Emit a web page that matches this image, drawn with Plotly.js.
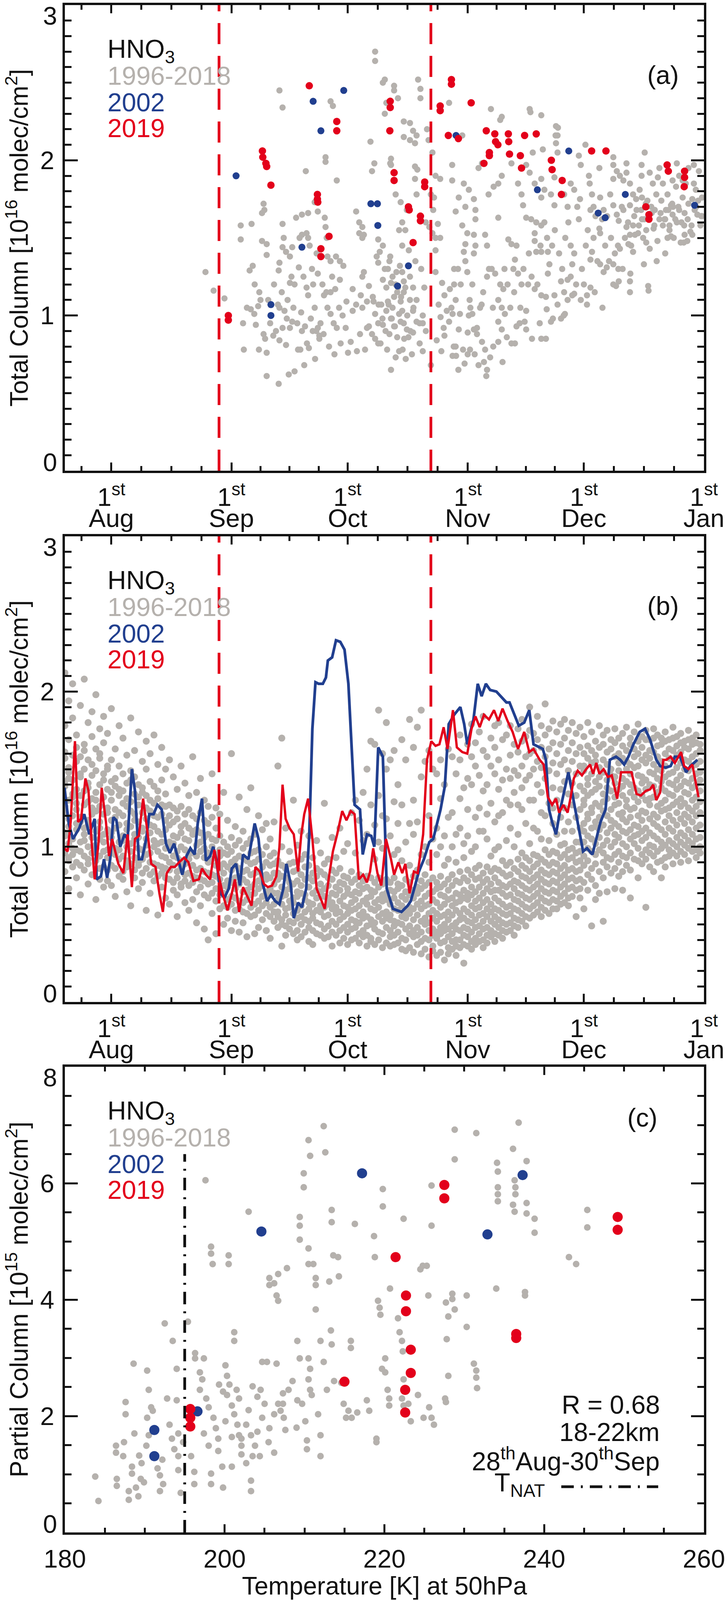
<!DOCTYPE html>
<html><head><meta charset="utf-8">
<script src="https://cdn.plot.ly/plotly-3.0.1.min.js"></script>
<style>html,body{margin:0;padding:0;background:#fff}#chart{width:1860px;height:4105px}</style>
</head><body><div id="chart"></div>
<script>
// ---------------- DATA ----------------
// x axis of panels (a),(b): day of year
const monthStartDays = [182, 213, 244, 274, 305, 335, 366];
const monthNames = ['Jul', 'Aug', 'Sep', 'Oct', 'Nov', 'Dec', 'Jan'];
const periodLineDays = [240.8, 295.5];
const tNAT = 195;
const colTicks = [0, 1, 2, 3];
const partTicks = [0, 2, 4, 6, 8];
const tempTicks = [180, 200, 220, 240, 260];

// panel (a) total column, 1996-2018 [day, value]
const aGrayPts = [
[237.3,1.28],[239.4,1.16],[242.2,1.11],[246.4,1.58],[246.4,1.49],[249.2,1.59],[248.7,1.29],[249.5,1.32],[252.3,1.72],[252.5,1.68],[251.9,1.66],[251.9,1.48],[253.1,1.46],[253.1,1.39],
[256.4,2.45],[257.2,2.34],[257.2,1.59],[257.5,1.50],[251.2,1.15],[251.5,1.10],[250.9,1.06],[249.0,1.04],[249.9,1.01],[250.3,0.94],[252.3,0.88],[252.7,0.85],[253.1,0.76],[247.2,0.78],
[251.1,0.78],[253.1,0.61],[256.2,0.56],[260.3,0.64],[254.8,0.87],[256.4,0.84],[258.1,0.81],[261.2,0.78],[264.0,0.79],[256.0,1.07],[256.4,1.05],[256.2,1.29],[256.4,1.34],[257.2,1.44],
[258.1,1.41],[259.1,1.38],[259.7,1.44],[257.7,1.03],[258.3,0.98],[259.1,0.92],[259.7,0.96],[257.2,0.92],[259.1,1.21],[260.3,1.20],[261.4,1.31],[261.6,1.50],[262.2,1.52],[263.4,1.53],
[263.8,1.50],[264.2,1.45],[260.7,1.63],[262.2,1.65],[263.8,1.66],[265.5,1.73],[263.2,1.93],[262.6,1.25],[263.4,1.18],[265.1,1.20],[263.8,1.13],[266.3,1.27],[265.5,1.05],[263.0,0.93],
[262.2,0.90],[265.9,0.90],[266.7,0.85],[266.3,1.67],[268.1,1.63],[268.3,1.57],[268.6,1.50],[268.3,2.02],[268.3,1.99],[269.6,2.38],[270.2,2.35],[271.2,1.87],[268.8,1.38],[269.6,1.35],
[267.9,1.13],[269.6,1.15],[270.8,1.17],[268.8,1.05],[269.6,1.01],[270.4,0.95],[271.2,0.92],[272.0,1.35],[272.9,1.32],[272.0,1.23],[266.3,0.92],[266.7,0.87],[274.1,0.76],[273.7,1.09],
[275.3,1.17],[277.4,1.13],[279.0,1.09],[277.8,1.25],[278.2,1.28],[276.2,1.67],[277.0,1.60],[277.8,1.57],[278.2,1.52],[277.0,1.53],[277.8,1.50],[279.9,2.12],[281.1,2.70],[281.1,2.64],
[280.9,1.98],[280.3,1.93],[281.9,1.49],[283.1,1.45],[282.3,1.41],[281.5,1.38],[281.9,1.34],[279.0,0.92],[280.3,0.88],[281.1,0.85],[281.9,0.82],[281.1,1.01],[281.9,0.95],[283.6,2.52],
[283.1,2.50],[284.0,2.37],[283.6,2.30],[286.0,2.48],[286.0,2.45],[287.0,2.40],[285.0,1.98],[283.6,1.30],[284.4,1.30],[285.6,1.25],[285.2,1.21],[284.0,1.18],[286.0,1.12],[284.4,1.09],
[284.0,1.03],[285.2,0.98],[286.0,0.93],[284.8,0.88],[288.1,1.28],[288.5,1.22],[288.5,1.15],[287.7,1.09],[288.1,1.03],[288.5,0.95],[288.9,1.18],[287.3,0.77],[286.4,0.73],[285.2,0.65],
[289.7,1.32],[290.1,1.25],[290.9,1.18],[290.1,1.10],[290.9,1.03],[291.8,0.96],[292.6,0.82],[293.4,0.77],[288.5,2.25],[290.1,2.24],[290.9,2.19],[291.8,2.16],[290.1,2.13],[291.4,2.11],
[288.5,2.15],[292.2,2.52],[292.8,2.46],[292.8,2.40],[285.2,2.01],[285.2,1.97],[291.4,1.96],[292.0,1.94],[291.4,1.88],[291.8,1.78],[286.4,1.78],[287.7,1.73],[289.3,1.68],[288.1,1.60],
[288.9,1.55],[287.3,1.55],[294.2,1.60],[295.1,1.57],[295.9,1.53],[296.7,1.50],[288.1,1.45],[293.4,0.95],[294.2,0.90],[295.5,0.68],[295.9,2.05],[296.3,1.76],[296.7,1.90],[297.9,1.88],
[285.6,1.05],[286.8,1.15],[287.3,1.01],[286.4,1.20],[287.7,0.96],[289.3,0.91],[289.7,0.86],[290.9,0.89],[286.8,0.86],[284.8,1.35],[283.1,1.23],[282.7,1.07],[283.1,0.94],[275.3,1.03],
[276.2,1.07],[277.8,1.05],[279.5,1.19],[280.7,1.09],[294.5,2.20],[294.9,2.13],[295.5,1.78],[296.1,1.68],[297.3,1.59],[297.9,1.50],[296.7,1.42],[296.7,1.28],[298.4,1.21],[299.0,1.13],
[300.8,1.05],[300.2,0.96],[299.0,0.87],[301.4,0.80],[302.0,0.74],[302.6,0.65],[303.8,0.78],[305.0,0.89],[305.6,0.78],[306.2,1.01],[307.4,0.92],[308.6,1.07],[309.2,0.70],[309.8,0.61],
[297.5,1.07],[298.0,0.99],[298.8,0.92],[299.6,1.03],[300.4,1.17],[297.0,0.84],[298.2,0.77],[303.0,1.01],[304.2,0.69],[306.8,0.75],
[300.2,2.37],[301.0,1.97],[301.0,1.87],[303.6,2.16],[304.0,1.85],[302.7,1.76],[305.3,1.81],[304.4,1.70],[301.9,1.67],[303.6,1.58],[304.9,1.53],[304.4,1.46],[304.0,1.41],[304.4,1.35],
[304.9,1.28],[301.5,1.30],[301.5,1.20],[301.9,1.10],[301.1,1.01],[302.7,0.91],[301.9,0.80],[301.1,0.74],[306.6,1.75],[307.0,1.68],[307.0,1.62],[306.6,1.52],[307.0,1.45],[306.6,1.40],
[305.7,1.05],[305.3,1.00],[306.6,0.91],[307.4,0.88],[308.7,0.83],[309.5,0.78],[310.8,0.73],[310.0,0.65],[311.0,2.33],[313.8,2.28],[307.8,1.95],[308.7,1.98],[310.4,1.78],[311.7,1.83],
[312.9,1.85],[313.8,1.90],[309.5,1.52],[310.0,1.45],[311.2,1.30],[310.0,1.25],[312.1,1.27],[312.9,1.63],[313.4,1.20],[314.2,1.17],[312.9,1.10],[313.8,1.05],[314.6,1.01],[312.9,0.96],
[313.8,0.91],[315.1,0.86],[312.9,0.83],[316.3,0.82],[315.5,1.49],[316.3,1.46],[317.6,1.45],[317.2,1.36],[316.8,1.30],[318.0,1.27],[316.3,1.98],[318.0,1.85],[318.9,1.78],[319.3,1.71],
[320.1,1.63],[321.4,1.62],[322.7,1.60],[324.0,1.58],[318.9,1.20],[320.6,1.20],[322.3,1.17],[324.0,1.13],[325.2,1.12],[320.1,1.03],[319.7,0.96],[320.1,0.91],[317.6,0.93],[317.2,0.82],
[324.0,0.85],[325.2,0.85],[321.0,2.33],[324.0,2.29],[320.1,1.97],[321.8,2.05],[321.0,1.92],[322.3,1.85],[322.3,1.53],[322.3,1.48],[322.7,1.41],[324.0,1.41],[325.7,1.41],[326.1,1.33],
[325.7,1.27],[324.4,2.07],[324.0,1.88],[324.8,1.81],[324.0,1.76],[327.8,2.22],[328.2,2.16],[327.8,2.11],[328.2,2.05],[327.4,1.89],[326.5,1.78],[327.4,1.71],[329.1,1.22],[330.8,1.23],
[329.9,1.15],[327.4,1.13],[328.2,1.07],[330.8,1.10],[332.0,1.13],[329.1,0.98],[326.5,0.96],[331.6,1.45],[332.5,1.40],[332.0,1.33],[331.6,1.25],[329.9,1.78],[330.8,1.70],[331.6,1.85],
[332.5,1.81],[333.7,2.03],[334.2,1.97],[333.3,1.70],[333.7,1.62],[335.0,1.20],[335.8,1.13],[336.7,1.18],[334.2,1.10],[335.8,1.07],[336.3,1.90],[335.4,2.10],[337.1,1.78],[337.5,1.70],
[336.7,1.68],[337.5,1.50],[337.1,1.41],[336.7,1.36],[339.2,1.76],[340.1,1.68],[339.7,1.62],[339.2,1.53],[339.2,1.33],[340.1,1.28],[340.9,1.31],[342.6,1.33],[343.9,1.30],[343.0,1.40],
[344.3,1.43],[342.6,1.20],[346.9,1.22],[351.6,1.19],[341.8,1.78],[342.6,1.88],[343.5,1.93],[344.3,1.90],[345.2,1.87],[342.6,1.71],[343.5,1.65],[345.2,1.68],[342.6,2.02],[342.6,1.97],
[346.0,1.92],[346.9,1.85],[347.7,1.78],[346.9,1.71],[348.6,1.68],[349.4,1.81],[349.9,1.90],[350.7,2.05],[349.9,1.97],[346.0,1.57],[347.7,1.58],[349.0,1.53],[346.9,1.52],[350.3,1.50],
[351.1,1.47],[352.0,1.43],[352.0,1.92],[352.8,1.85],[353.7,1.78],[353.3,1.68],[354.5,1.62],[355.4,1.58],[354.5,1.95],[354.1,1.89],[355.4,1.85],[356.6,1.78],[357.5,1.71],[357.9,1.65],
[356.2,1.68],[357.1,1.58],[357.9,1.87],[358.8,1.83],[356.6,1.50],[357.1,1.55],[359.6,1.68],[360.5,1.76],[360.9,1.58],[361.7,1.48],[363.0,1.75],[363.9,1.81],[363.4,1.85],[364.3,1.65],
[365.1,1.58],[364.7,1.93],[363.4,1.97],[359.6,1.90],[360.5,1.87],[361.3,1.85],[360.0,1.47],[351.1,1.55],[346.5,1.46],[347.7,1.41],[313.4,2.26],[321.2,2.31],[328.3,2.21],[327.7,2.16],
[343.3,1.19],[346.9,1.15],[351.7,1.16],[332.5,1.14],[330.1,1.01],[325.4,1.04],[348.0,1.64],[350.0,1.62],[351.0,1.72],[352.5,1.66],[355.0,1.74],[356.0,1.62],[358.0,1.70],[359.0,1.60],
[361.0,1.66],[362.0,1.72],[364.0,1.70],[365.5,1.64],[348.5,1.75],[353.0,1.56],[357.5,1.51],[362.5,1.54],[365.5,1.76],[350.0,1.76],[344.0,1.61],[341.0,1.64],[338.0,1.64],[339.0,1.56],
[279.5,0.93],[280.5,1.12],[282.0,1.07],[283.0,0.98],[283.8,0.90],[284.6,1.07],[285.4,0.98],[286.2,0.93],[287.0,1.18],[287.8,1.12],[288.6,0.85],[289.4,1.00],[290.2,0.90],[291.0,1.05],
[291.8,1.10],[292.6,0.95],[293.4,1.00],[289.0,0.72],[288.2,0.78],[290.6,0.75],[284.2,0.78],[282.5,0.82],[278.5,0.78],[277.2,0.88],[276.4,0.77],[274.8,0.83],[273.5,0.92],[272.7,1.00],
[271.8,1.05],[286.6,1.28],[285.0,1.38],[287.5,1.32],[289.8,1.42],[291.5,1.35],[293.0,1.30],[293.8,1.18],[255.0,1.20],[258.5,1.10],[260.0,1.05],[261.0,0.95],[262.0,1.02],[264.5,0.98],
[265.0,0.90],[267.0,0.95],[267.5,1.20],[268.5,1.15],[270.0,1.25],[271.0,1.38],[266.0,1.40],[264.8,1.30],[259.5,1.25],[255.5,0.90],[254.0,0.95],[257.0,1.15],[250.0,1.20],[248.0,1.05],
[247.0,0.95],[253.5,1.10],[261.8,0.78],[263.5,0.82],[267.8,0.88],[269.2,0.80],[270.6,0.75],[272.2,0.82],[258.8,0.62],[262.8,0.68],[265.6,0.72],[302.5,1.30],[303.2,1.20],[305.5,1.10],
[306.2,1.20],[308.2,1.05],[309.0,1.15],[310.5,1.30],[311.5,1.05],[314.5,1.30],[315.3,1.20],[316.0,1.05],[317.0,1.15],[318.6,1.05],[319.4,1.30],[320.8,1.40],[321.5,1.25],[323.0,1.20],
[323.8,1.45],[324.8,1.60],[325.5,1.50],[326.8,1.45],[327.5,1.55],[328.6,1.40],[329.4,1.30],[330.2,1.50],[331.0,1.60],[305.0,0.75],[307.8,0.68],[311.6,0.80],[314.0,0.70],[318.4,0.95],
[321.6,0.85],[323.6,0.95],[327.0,0.98],[329.8,1.00],[333.0,1.20],[334.5,1.30],[335.5,1.45],[334.0,1.75],[336.0,1.55],[338.5,1.35],[337.8,1.15],[339.8,1.05],[340.5,1.45],[341.5,1.35],
[342.0,1.50],[343.8,1.45],[344.8,1.70],[345.6,1.50],[346.4,1.60],[347.2,1.45],[348.2,1.52],[349.2,1.58],[349.8,1.68],[350.6,1.62],[351.4,1.74],[352.4,1.70],[353.2,1.58],[354.0,1.48],
[354.8,1.66],[355.8,1.62],[356.8,1.68],[357.8,1.72],[358.6,1.62],[359.4,1.70],[360.2,1.60],[361.0,1.52],[361.8,1.62],[362.8,1.58],[363.6,1.68],[364.5,1.74],[365.3,1.64],[358.2,1.50],
[360.8,1.47],[363.0,1.52],[356.0,1.40],[353.8,1.35],[350.5,1.33],[347.0,1.27],[345.0,1.30],[344.0,1.22],[359.0,1.98],[362.0,1.95],[346.0,1.98],[339.0,1.95],[336.5,1.85]
];
// panel (a) 2002 and 2019 [day, value]
const a2002Pts = [[245.2,1.90],[254.2,1.07],[254.2,1.00],[262.2,1.44],[265.1,2.38],[267.1,2.19],[273.0,2.45],[280.0,1.72],[281.7,1.72],[281.8,1.58],[286.9,1.19],[289.7,1.32],[302.0,2.16],[323.0,1.81],[331.1,2.06],[338.7,1.66],[340.5,1.63],[345.7,1.78],[363.6,1.71]];
const a2019Pts = [[243.2,1.00],[243.2,0.97],[252.0,2.06],[252.1,2.02],[252.9,1.98],[253.1,1.96],[254.2,1.84],[264.1,2.48],[266.2,1.78],[266.2,1.75],[266.3,1.73],[267.1,1.43],[267.1,1.38],[269.2,1.51],[271.2,2.25],[271.2,2.19],
[285.0,2.38],[285.0,2.34],[284.9,2.19],[286.0,1.92],[286.0,1.87],[289.7,1.70],[289.9,1.68],[290.9,1.47],[292.8,1.64],[292.8,1.61],[293.9,1.86],[293.9,1.83],[297.9,2.35],[297.9,2.32],[300.0,2.16],[300.8,2.52],[300.8,2.49],
[302.6,2.14],[305.9,2.37],[309.2,1.98],[309.8,2.19],[310.6,2.05],[310.6,2.03],[312.0,2.17],[312.2,2.12],[312.8,2.10],[315.5,2.17],[315.6,2.12],[315.8,2.04],[318.6,2.03],[318.9,1.95],[319.7,2.16],[322.7,2.17],
[326.6,2.00],[326.8,1.94],[329.4,1.87],[329.2,1.78],[337.0,2.06],[340.7,2.06],[351.0,1.70],[351.8,1.65],[351.8,1.62],[356.5,1.97],[356.8,1.93],[361.0,1.93],[361.0,1.89],[360.9,1.83]];

// panel (b) total column, 2002 daily series
const b2002Days = [200.9,202.0,203.1,204.7,206.0,207.3,208.7,209.2,210.3,211.1,211.9,212.7,213.5,214.3,215.3,216.4,217.2,218.3,219.1,220.1,220.9,222.0,222.8,223.9,224.9,226.0,227.1,228.1,229.2,230.2,231.3,232.4,233.4,234.5,235.3,236.4,237.4,238.5,239.3,240.1,241.2,242.2,243.3,244.1,245.2,246.2,247.0,248.4,249.2,250.0,251.0,252.1,253.2,254.2,255.3,256.4,257.4,258.2,259.3,260.1,261.2,262.2,263.3,264.1,264.9,265.7,266.5,267.6,268.4,268.9,270.0,271.0,272.1,273.2,274.2,275.0,275.8,277.2,277.9,279.0,280.1,280.9,281.9,283.1,284.1,285.7,287.9,289.5,290.3,292.4,293.7,295.1,296.1,298.0,299.1,300.1,301.5,303.1,304.1,304.9,306.5,307.6,308.6,309.7,310.8,312.4,314.0,315.0,315.8,317.2,318.2,319.6,320.9,322.0,323.6,324.4,325.2,326.0,326.8,327.8,328.9,330.0,331.0,332.4,333.4,334.8,335.8,337.2,338.0,339.3,340.6,341.7,343.3,344.4,345.4,346.5,347.8,349.4,350.8,352.1,353.7,354.7,356.1,357.4,358.5,359.8,361.4,362.5,364.3];
const b2002Vals = [1.38,1.15,1.05,1.12,1.21,1.08,1.18,0.79,0.81,0.92,0.80,0.92,1.19,1.17,1.00,1.08,1.05,1.50,1.36,0.92,0.92,1.05,1.21,1.21,1.27,1.24,1.02,0.96,1.02,0.92,0.82,0.94,0.99,0.95,1.15,1.31,0.91,0.94,1.00,0.92,0.70,0.67,0.73,0.86,0.89,0.75,0.95,0.92,1.03,1.15,1.05,0.76,0.65,0.69,0.65,0.63,0.73,0.89,0.76,0.54,0.64,0.61,0.73,1.08,1.76,2.06,2.05,2.05,2.09,2.20,2.22,2.33,2.32,2.27,2.05,1.69,1.27,1.24,0.95,1.08,1.07,1.00,1.64,1.58,0.73,0.60,0.58,0.62,0.65,0.84,0.92,1.03,1.05,1.24,1.39,1.79,1.85,1.90,1.79,1.66,1.82,2.05,1.97,2.05,2.01,2.00,1.96,1.93,1.93,1.84,1.78,1.80,1.88,1.66,1.64,1.63,1.56,1.24,1.16,1.08,1.24,1.37,1.48,1.29,1.15,0.97,0.99,0.95,1.03,1.16,1.24,1.56,1.58,1.56,1.53,1.58,1.66,1.74,1.76,1.69,1.56,1.52,1.51,1.52,1.58,1.58,1.48,1.52,1.56];
// panel (b) total column, 2019 daily series
const b2019Days = [200.9,201.7,202.5,203.6,204.4,205.2,206.3,207.1,207.9,208.7,209.7,210.5,211.6,212.4,213.2,214.0,214.8,216.1,217.2,218.3,219.1,220.1,221.2,222.3,223.3,224.4,225.4,226.3,227.3,228.4,229.4,230.5,231.8,232.9,234.2,235.6,236.4,237.4,238.5,239.6,240.6,241.7,243.0,244.1,244.9,246.0,247.0,248.1,249.2,250.2,251.3,252.4,253.4,254.5,255.6,256.4,257.2,258.0,259.0,260.1,261.2,262.0,262.8,263.8,264.9,266.0,267.0,268.1,269.2,270.2,271.3,272.6,273.7,274.8,275.8,276.9,278.0,279.0,279.8,280.6,281.7,282.7,283.9,285.2,286.0,287.1,288.1,288.9,290.0,291.1,292.1,293.5,294.5,295.6,296.7,297.7,298.8,299.8,301.2,302.2,303.6,304.9,306.0,307.0,308.1,309.2,310.5,311.8,312.9,314.0,315.3,316.6,318.0,319.6,320.9,322.0,323.6,324.6,325.7,326.8,327.8,328.6,329.7,330.8,331.6,332.4,333.4,334.5,335.6,336.6,337.4,338.2,339.0,340.1,341.2,342.2,343.6,344.6,346.0,347.3,348.6,349.7,351.0,352.1,352.9,353.7,354.7,355.5,356.3,357.4,358.5,360.1,360.9,362.0,363.0,364.6];
const b2019Vals = [0.99,0.97,1.16,1.68,1.16,1.18,1.44,1.36,1.03,0.79,1.03,1.38,1.16,0.94,1.05,0.97,0.89,0.83,1.08,0.74,1.05,1.07,1.31,1.10,0.89,0.87,0.70,0.58,0.83,0.87,0.87,0.90,0.93,0.90,0.78,0.79,0.86,0.82,0.79,0.98,0.83,0.70,0.59,0.70,0.79,0.58,0.74,0.68,0.62,0.87,0.84,0.76,0.74,0.75,0.81,1.00,1.40,1.18,1.12,1.08,0.84,1.07,1.21,1.31,1.05,0.73,0.67,0.60,0.81,0.97,1.08,1.23,1.17,1.23,1.21,0.79,0.82,0.77,0.84,0.99,0.83,0.75,1.05,0.92,0.82,0.90,0.83,0.89,0.70,0.84,0.83,1.08,1.56,1.68,1.65,1.66,1.77,1.63,1.88,1.64,1.61,1.60,1.76,1.84,1.77,1.85,1.82,1.88,1.81,1.89,1.81,1.74,1.63,1.74,1.61,1.63,1.56,1.53,1.32,1.27,1.31,1.22,1.27,1.22,1.32,1.44,1.49,1.46,1.50,1.53,1.47,1.54,1.47,1.50,1.45,1.46,1.31,1.48,1.48,1.48,1.34,1.33,1.36,1.37,1.40,1.30,1.35,1.56,1.56,1.58,1.54,1.61,1.52,1.50,1.53,1.32];

// panel (b) total column, 1996-2018: [day, values...]
const bGrayCols = [
[201,2.12,1.78,1.61,1.57,1.42,1.39,1.26,1.22,1.09,1.07,0.96,0.84],[202,1.94,1.69,1.51,1.48,1.44,1.3,1.18,1.13,1.02,0.93,0.91,0.73],
[203,2.05,1.83,1.59,1.43,1.34,1.32,1.2,1.05,0.99,0.95,0.87],[204,1.72,1.64,1.55,1.37,1.28,1.24,1.15,1.11,0.98,0.9,0.8],
[205,1.91,1.58,1.47,1.45,1.33,1.19,1.16,1.03,0.97,0.88,0.69],[206,2.08,1.66,1.62,1.5,1.36,1.27,1.12,1.08,1.04,0.94,0.85],
[207,1.8,1.56,1.41,1.38,1.29,1.17,1.14,1.0,0.92,0.89,0.76],[208,1.87,1.71,1.53,1.46,1.31,1.25,1.21,1.06,0.96,0.82],
[209,1.98,1.63,1.49,1.35,1.3,1.23,1.1,1.01,0.99,0.91,0.66],[210,1.76,1.6,1.57,1.4,1.26,1.16,1.12,1.05,0.94,0.86,0.79],
[211,1.84,1.67,1.47,1.43,1.32,1.21,1.08,1.03,0.97,0.87,0.74],[212,1.73,1.52,1.5,1.37,1.25,1.22,1.11,0.98,0.93,0.85,0.78],
[213,1.89,1.56,1.42,1.35,1.3,1.17,1.09,1.06,0.96,0.88,0.75],[214,1.63,1.44,1.39,1.24,1.19,1.12,0.99,0.95,0.86,0.68],
[215,1.78,1.52,1.37,1.33,1.22,1.14,1.03,0.98,0.92,0.81],[216,1.7,1.47,1.36,1.28,1.2,1.07,1.04,0.94,0.84,0.79],
[217,1.59,1.41,1.31,1.26,1.15,1.11,1.0,0.91,0.87,0.71],[218,1.83,1.49,1.43,1.29,1.23,1.13,1.02,0.97,0.89,0.62],
[219,1.62,1.45,1.34,1.21,1.17,1.08,1.05,0.93,0.85,0.8],[220,1.74,1.4,1.32,1.27,1.16,1.06,0.99,0.9,0.88,0.73],
[221,1.55,1.38,1.35,1.22,1.12,1.1,0.98,0.92,0.83,0.77],[222,1.68,1.5,1.33,1.25,1.18,1.05,1.01,0.95,0.86,0.59],
[223,1.6,1.42,1.3,1.23,1.14,1.09,0.96,0.9,0.82,0.7],[224,1.72,1.39,1.28,1.2,1.13,1.04,1.0,0.89,0.84,0.78],
[225,1.53,1.36,1.31,1.19,1.1,1.02,0.97,0.88,0.81,0.56],[226,1.64,1.43,1.27,1.21,1.08,1.03,0.94,0.87,0.83,0.74],
[227,1.5,1.34,1.26,1.17,1.11,0.99,0.93,0.86,0.8,0.67],[228,1.56,1.27,1.2,1.14,1.03,0.99,0.9,0.85,0.79,0.63],
[229,1.45,1.25,1.16,1.07,1.02,0.94,0.88,0.77,0.72],[230,1.37,1.23,1.18,1.06,0.97,0.93,0.84,0.8,0.69,0.55],
[231,1.52,1.26,1.13,1.09,1.0,0.91,0.87,0.76,0.74],[232,1.41,1.21,1.15,1.05,0.98,0.89,0.82,0.78,0.64],
[233,1.33,1.24,1.12,1.04,0.95,0.92,0.83,0.75,0.59],[234,1.58,1.2,1.1,1.08,0.96,0.88,0.81,0.77,0.66],
[235,1.35,1.18,1.11,1.01,0.94,0.85,0.8,0.71,0.51],[236,1.44,1.22,1.09,1.03,0.97,0.86,0.79,0.74,0.62],
[237,1.3,1.17,1.06,0.99,0.93,0.84,0.78,0.69,0.47],[238,1.26,1.15,1.08,0.96,0.9,0.83,0.76,0.67,0.4],
[239,1.47,1.19,1.05,1.0,0.92,0.82,0.77,0.7,0.57],[240,1.25,1.12,1.04,0.95,0.88,0.81,0.73,0.65,0.44],
[241,1.21,1.07,0.98,0.94,0.86,0.79,0.72,0.69,0.6],[242,1.35,1.03,0.96,0.89,0.83,0.75,0.7,0.62,0.5],
[243,1.17,1.0,0.95,0.87,0.78,0.74,0.66,0.61,0.54],[244,1.6,1.06,0.97,0.9,0.85,0.77,0.68,0.63,0.46],
[245,1.13,1.01,0.92,0.88,0.8,0.73,0.67,0.59,0.52],[246,1.32,1.04,0.94,0.86,0.81,0.76,0.65,0.6,0.45],
[247,1.1,0.99,0.93,0.84,0.79,0.71,0.64,0.58,0.51],[248,1.24,1.02,0.91,0.85,0.77,0.72,0.66,0.57,0.42],
[249,1.38,1.05,0.96,0.89,0.82,0.74,0.69,0.61,0.55],[250,1.08,0.97,0.9,0.83,0.76,0.7,0.63,0.56,0.44],
[251,1.2,0.98,0.92,0.84,0.78,0.73,0.65,0.59,0.48],[252,1.11,0.95,0.87,0.81,0.75,0.68,0.62,0.53],
[253,1.15,1.0,0.9,0.82,0.79,0.71,0.64,0.57,0.46],[254,1.05,0.94,0.88,0.8,0.73,0.69,0.61,0.55,0.41],
[255,1.16,0.96,0.89,0.83,0.76,0.7,0.63,0.58,0.52],[256,1.52,0.91,0.83,0.79,0.7,0.66,0.58,0.55,0.48],
[257,1.7,1.0,0.88,0.81,0.74,0.68,0.63,0.53,0.5,0.36],[258,1.12,0.86,0.8,0.72,0.69,0.6,0.56,0.49,0.43],
[259,0.97,0.89,0.77,0.73,0.65,0.61,0.52,0.47],[260,1.3,0.9,0.84,0.76,0.67,0.64,0.57,0.51,0.44],
[261,1.01,0.85,0.78,0.71,0.68,0.59,0.54,0.46,0.4],[262,1.1,0.92,0.82,0.75,0.7,0.62,0.55,0.5,0.42],
[263,0.95,0.87,0.79,0.69,0.66,0.58,0.53,0.45],[264,1.07,0.88,0.8,0.74,0.64,0.6,0.52,0.48,0.39],
[265,0.93,0.83,0.78,0.7,0.63,0.57,0.54,0.46,0.37],[266,1.04,0.86,0.81,0.72,0.67,0.59,0.51,0.44],
[267,0.96,0.84,0.76,0.71,0.62,0.58,0.5,0.43],[268,1.28,0.89,0.82,0.73,0.68,0.61,0.55,0.47,0.41],
[269,0.92,0.8,0.75,0.67,0.63,0.56,0.49,0.42],[270,1.06,0.85,0.79,0.7,0.64,0.6,0.52,0.45,0.36],
[271,0.93,0.83,0.74,0.69,0.61,0.57,0.5,0.43],[272,1.12,0.86,0.77,0.72,0.65,0.58,0.53,0.46,0.38],
[273,0.97,0.81,0.76,0.68,0.62,0.55,0.48,0.41],[274,1.02,0.8,0.73,0.7,0.61,0.57,0.5,0.45,0.37],
[275,1.22,0.84,0.77,0.69,0.64,0.59,0.53,0.47,0.4],[276,1.3,0.96,0.79,0.71,0.66,0.6,0.52,0.48,0.41],
[277,1.17,0.82,0.75,0.7,0.62,0.56,0.51,0.44,0.38],[278,1.35,1.04,0.78,0.73,0.65,0.58,0.54,0.46,0.42],
[279,1.5,1.08,0.81,0.74,0.67,0.63,0.55,0.49,0.43,0.36],[280,1.68,1.27,0.8,0.72,0.68,0.6,0.53,0.5,0.41,0.39],
[281,1.66,1.14,0.92,0.77,0.71,0.64,0.59,0.51,0.47,0.37],[282,1.88,1.33,1.03,0.8,0.74,0.66,0.61,0.55,0.45,0.4],
[283,1.6,1.2,0.99,0.76,0.69,0.65,0.57,0.52,0.44,0.35],[284,1.8,1.5,1.18,0.79,0.7,0.66,0.58,0.54,0.48,0.38],
[285,1.56,1.07,0.77,0.72,0.63,0.56,0.53,0.46,0.42,0.36],[286,1.62,1.29,0.95,0.8,0.71,0.67,0.6,0.52,0.49,0.43,0.37],
[287,1.4,1.15,0.98,0.76,0.73,0.64,0.59,0.51,0.45,0.38],[288,1.69,1.27,0.91,0.75,0.68,0.62,0.55,0.5,0.41,0.34],
[289,1.56,1.03,0.79,0.71,0.66,0.58,0.54,0.47,0.4,0.33],[290,1.82,1.15,0.88,0.77,0.69,0.61,0.57,0.49,0.44,0.35],
[291,1.64,1.3,1.08,0.81,0.72,0.67,0.6,0.53,0.46,0.42,0.32],[292,1.77,1.16,0.85,0.74,0.7,0.63,0.56,0.48,0.43,0.37],
[293,1.88,1.45,0.95,0.78,0.73,0.65,0.6,0.52,0.45,0.39,0.31],[294,1.55,1.0,0.82,0.75,0.68,0.62,0.54,0.5,0.41,0.34],
[295,1.62,1.2,0.9,0.77,0.7,0.63,0.57,0.51,0.46,0.4,0.29],[296,1.5,1.05,0.8,0.71,0.66,0.59,0.54,0.47,0.43,0.36,0.33],
[297,1.47,1.12,0.95,0.77,0.73,0.64,0.57,0.52,0.45,0.41,0.3],[298,1.56,1.31,1.0,0.81,0.74,0.69,0.61,0.55,0.48,0.44,0.38,0.32],
[299,1.4,1.07,0.88,0.76,0.68,0.63,0.56,0.5,0.46,0.39,0.27],[300,1.63,1.19,0.92,0.79,0.72,0.66,0.58,0.53,0.47,0.42,0.35,0.31],
[301,1.58,1.22,1.0,0.82,0.75,0.67,0.62,0.56,0.49,0.44,0.39,0.34],[302,1.47,1.08,0.9,0.78,0.7,0.64,0.59,0.51,0.47,0.4,0.36,0.3],
[303,1.72,1.56,1.31,1.12,0.84,0.77,0.69,0.65,0.57,0.53,0.46,0.4,0.35],[304,1.38,1.02,0.93,0.8,0.72,0.67,0.6,0.54,0.48,0.43,0.37,0.25],
[305,1.66,1.44,1.24,1.07,0.85,0.78,0.7,0.66,0.58,0.52,0.47,0.42,0.36],[306,1.79,1.58,1.4,0.97,0.82,0.74,0.69,0.62,0.56,0.51,0.45,0.39,0.34],
[307,1.67,1.52,1.19,1.0,0.86,0.79,0.71,0.65,0.6,0.53,0.48,0.41,0.37],[308,1.74,1.46,1.25,1.1,0.88,0.8,0.74,0.67,0.61,0.56,0.49,0.44,0.39],
[309,1.84,1.62,1.36,1.1,0.83,0.77,0.7,0.64,0.57,0.52,0.47,0.4,0.35],[310,1.58,1.4,1.21,1.05,0.87,0.79,0.73,0.66,0.6,0.55,0.48,0.43,0.38],
[311,1.7,1.52,1.28,0.94,0.84,0.76,0.71,0.63,0.58,0.52,0.46,0.42],[312,1.78,1.64,1.47,1.16,0.98,0.86,0.8,0.72,0.67,0.6,0.55,0.5,0.44,0.39],
[313,1.8,1.56,1.37,1.2,1.0,0.85,0.77,0.72,0.65,0.59,0.53,0.48,0.43],[314,1.69,1.43,1.22,0.91,0.83,0.75,0.7,0.63,0.57,0.51,0.46,0.41],
[315,1.72,1.5,1.3,1.04,0.88,0.81,0.74,0.68,0.61,0.56,0.5,0.45],[316,1.78,1.59,1.44,1.27,1.12,0.9,0.82,0.76,0.69,0.62,0.57,0.51,0.46],
[317,1.66,1.49,1.35,1.0,0.86,0.78,0.73,0.66,0.6,0.54,0.49,0.43],[318,1.76,1.61,1.46,1.27,1.08,0.92,0.84,0.77,0.7,0.65,0.59,0.53,0.48],
[319,1.82,1.68,1.52,1.38,1.24,0.96,0.88,0.81,0.75,0.69,0.63,0.57,0.52],[320,1.71,1.58,1.43,1.15,0.93,0.86,0.8,0.73,0.67,0.61,0.55,0.49],
[321,1.9,1.75,1.6,1.46,1.3,1.02,0.91,0.84,0.78,0.72,0.66,0.6,0.54],[322,1.73,1.62,1.5,1.3,1.12,0.95,0.87,0.8,0.74,0.68,0.62,0.56],
[323,1.84,1.69,1.55,1.4,1.1,0.94,0.89,0.82,0.76,0.7,0.64,0.58],[324,1.78,1.64,1.51,1.35,1.22,1.05,0.92,0.85,0.79,0.73,0.67,0.61,0.55],
[325,1.92,1.72,1.58,1.44,1.2,0.98,0.9,0.83,0.77,0.71,0.65,0.59],[326,1.76,1.63,1.49,1.28,1.04,0.95,0.88,0.82,0.76,0.7,0.64,0.57],
[327,1.81,1.67,1.54,1.38,1.25,1.15,0.97,0.9,0.84,0.78,0.72,0.66,0.6],[328,1.74,1.6,1.47,1.3,1.08,0.96,0.89,0.83,0.77,0.71,0.65,0.6],
[329,1.79,1.66,1.53,1.37,1.19,1.01,0.93,0.86,0.8,0.74,0.68,0.63],[330,1.82,1.7,1.56,1.42,1.25,1.1,1.02,0.95,0.88,0.82,0.76,0.7,0.64],
[331,1.75,1.62,1.49,1.34,1.16,0.98,0.92,0.85,0.79,0.73,0.67,0.62],[332,1.8,1.67,1.55,1.41,1.27,1.1,0.99,0.93,0.86,0.8,0.74,0.68],
[333,1.73,1.6,1.47,1.33,1.19,1.03,0.96,0.9,0.84,0.78,0.72,0.55],[334,1.77,1.64,1.52,1.39,1.24,1.12,1.03,0.97,0.91,0.85,0.79,0.73,0.67],
[335,1.71,1.6,1.52,1.49,1.36,1.3,1.27,1.15,1.1,1.03,0.94,0.88,0.77,0.6],[336,1.8,1.65,1.57,1.44,1.4,1.33,1.21,1.18,1.07,0.99,0.91,0.82,0.72],
[337,1.74,1.62,1.54,1.47,1.35,1.25,1.22,1.12,1.05,0.97,0.86,0.79,0.49],[338,1.68,1.59,1.55,1.42,1.37,1.28,1.16,1.13,1.02,0.95,0.89,0.75,0.66],
[339,1.78,1.64,1.51,1.45,1.39,1.26,1.19,1.11,1.06,0.98,0.84,0.7],[340,1.72,1.66,1.56,1.48,1.34,1.29,1.23,1.14,1.01,0.96,0.9,0.8,0.52],
[341,1.75,1.61,1.53,1.43,1.38,1.31,1.2,1.09,1.04,0.93,0.87,0.71],[342,1.69,1.63,1.5,1.46,1.36,1.24,1.17,1.12,1.0,0.92,0.83],
[343,1.76,1.67,1.58,1.45,1.41,1.32,1.27,1.15,1.08,1.03,0.95,0.86,0.73],[344,1.7,1.6,1.54,1.49,1.37,1.28,1.21,1.13,1.06,0.97,0.9,0.81],
[345,1.73,1.65,1.57,1.44,1.39,1.33,1.22,1.18,1.1,1.02,0.94,0.84,0.72],[346,1.77,1.62,1.55,1.5,1.42,1.3,1.26,1.16,1.09,1.0,0.93,0.88],
[347,1.7,1.66,1.53,1.47,1.4,1.35,1.24,1.19,1.11,1.05,0.96,0.85,0.67],[348,1.74,1.63,1.58,1.51,1.38,1.32,1.25,1.14,1.07,1.02,0.92],
[349,1.79,1.68,1.6,1.52,1.46,1.36,1.29,1.2,1.13,1.08,0.99,0.91,0.8],[350,1.71,1.64,1.56,1.45,1.41,1.33,1.23,1.17,1.1,1.04,0.95,0.89],
[351,1.75,1.69,1.59,1.54,1.43,1.37,1.3,1.22,1.12,1.06,0.98,0.92,0.61],[352,1.69,1.62,1.57,1.48,1.4,1.31,1.27,1.18,1.09,1.01,0.96,0.87],
[353,1.76,1.7,1.61,1.53,1.47,1.39,1.32,1.21,1.15,1.07,1.0,0.94,0.84],[354,1.72,1.65,1.58,1.5,1.44,1.35,1.26,1.19,1.13,1.05,0.97,0.9],
[355,1.7,1.66,1.55,1.49,1.42,1.38,1.28,1.23,1.11,1.03,0.99,0.91,0.8],[356,1.74,1.68,1.6,1.52,1.45,1.36,1.3,1.24,1.16,1.08,1.01,0.93,0.87],
[357,1.69,1.63,1.57,1.47,1.41,1.34,1.25,1.2,1.12,1.04,0.98,0.94],[358,1.77,1.7,1.62,1.56,1.48,1.4,1.33,1.27,1.17,1.1,1.02,0.96,0.89],
[359,1.71,1.65,1.59,1.51,1.43,1.37,1.29,1.22,1.14,1.06,1.0,0.94],[360,1.73,1.67,1.61,1.54,1.46,1.39,1.31,1.26,1.18,1.09,1.03,0.97,0.9],
[361,1.68,1.64,1.56,1.5,1.42,1.35,1.28,1.21,1.15,1.07,1.01,0.95],[362,1.75,1.69,1.63,1.55,1.49,1.41,1.34,1.25,1.19,1.11,1.04,0.99,0.91],
[363,1.7,1.66,1.58,1.52,1.44,1.38,1.3,1.23,1.16,1.08,1.02,0.97],[364,1.72,1.67,1.6,1.53,1.47,1.4,1.32,1.26,1.2,1.12,1.05,0.98,0.93],
[365,1.66,1.62,1.55,1.48,1.43,1.36,1.29,1.22,1.14,1.06,1.0,0.96]
];

// panel (c) partial column vs temperature [K, value]
const cGrayPts = [
[183.8,0.96],[184.2,0.54],[186.4,1.49],[186.4,1.37],[186.5,0.92],[186.5,0.80],[187.6,2.24],[187.6,2.03],[187.4,1.55],[187.3,1.31],[188.0,0.71],[188.0,0.56],[188.4,1.13],[188.4,1.01],
[188.6,2.90],[188.7,1.70],[188.9,0.77],[189.2,0.62],[189.3,1.32],[189.6,1.19],[189.5,0.92],[190.3,2.78],[190.5,2.45],[190.3,1.97],[190.5,1.67],[190.2,1.49],[189.9,0.86],[190.8,2.15],
[191.0,2.09],[191.6,1.10],[191.9,0.71],[192.2,1.25],[192.3,0.83],[191.9,0.98],[192.5,3.59],[192.8,2.30],[193.1,1.85],[193.4,1.61],[193.7,1.43],[193.5,3.29],[194.0,2.81],[194.2,1.31],
[194.2,1.07],[194.5,0.68],[194.0,2.27],[195.4,3.62],[196.3,3.08],[196.3,2.99],[196.2,1.04],[196.2,0.83],[196.9,2.75],[197.2,2.63],[196.9,2.45],[197.4,2.99],[197.6,6.05],[197.7,2.30],
[198.0,2.15],[198.3,4.91],[198.3,4.79],[198.5,4.61],[198.3,0.83],[198.6,1.97],[198.9,1.79],[199.2,1.61],[199.3,2.54],[199.8,2.42],[200.3,2.36],[199.7,1.13],[200.1,2.87],[200.3,2.69],
[200.6,2.54],[200.1,1.91],[200.5,4.76],[200.5,4.61],[200.9,2.18],[201.2,2.03],[201.6,1.85],[201.8,1.67],[202.1,1.49],[201.2,3.44],[201.2,3.29],[201.5,2.45],[201.8,2.30],[202.1,1.34],
[202.7,1.19],[202.7,1.85],[203.3,1.67],[203.0,5.51],[203.3,0.71],[203.5,2.51],[204.1,2.33],[203.8,1.49],[204.4,1.31],[204.7,2.93],[205.3,2.93],[205.0,2.21],[205.6,4.37],[205.6,4.25],
[206.2,4.28],[205.6,1.79],[206.5,4.07],[206.7,3.98],[206.7,4.44],[206.7,2.21],[207.0,2.09],[206.5,2.90],[206.2,1.37],[207.3,2.39],[207.4,1.97],[207.6,1.76],[207.8,4.54],[209.1,3.29],
[209.4,2.99],[209.4,5.42],[209.4,5.27],[209.4,5.03],[209.1,2.27],[209.7,2.21],[209.9,6.17],[209.9,5.93],[210.1,1.91],[210.3,1.58],[210.3,1.43],[210.5,6.74],[210.7,6.47],[210.5,4.88],
[210.5,4.61],[210.5,2.99],[210.7,2.81],[210.5,2.63],[210.7,2.45],[210.9,2.36],[211.1,4.61],[211.4,4.37],[211.4,4.25],[211.4,3.83],[211.7,2.03],[212.0,1.67],[212.0,1.31],[212.0,3.29],
[212.4,2.93],[212.4,6.98],[212.6,6.53],[212.8,2.45],[213.1,4.31],[213.3,3.47],[213.4,3.23],[213.4,5.54],[213.4,5.33],[213.6,4.76],[213.7,2.60],[214.2,4.73],[214.3,4.40],[214.6,2.57],
[214.9,2.21],[215.2,1.97],[215.5,2.09],[215.8,3.29],[215.8,3.17],[215.9,1.97],[216.3,5.30],[216.6,2.06],[217.8,2.27],[218.1,2.09],[218.7,5.09],[218.8,4.73],[219.0,1.61],[219.0,1.55],
[219.2,3.98],[219.4,3.86],[219.5,3.74],[219.7,2.81],[220.1,2.75],[219.8,5.90],[219.8,5.60],[220.1,2.99],[220.4,2.45],[220.6,2.30],[220.6,2.18],[220.7,4.19],[221.7,3.68],[221.9,3.44],
[222.2,3.29],[222.3,3.11],[222.2,2.30],[222.4,2.18],[222.4,5.39],[223.0,2.21],[223.3,1.91],[224.2,2.36],[224.5,4.52],[224.8,4.58],[225.3,4.58],[225.5,4.07],[225.6,2.15],[225.9,1.97],
[226.2,1.85],[225.9,5.27],[225.9,5.96],[227.7,3.95],[228.0,3.71],[227.8,3.32],[227.6,2.30],[227.7,2.24],[228.0,2.69],[228.5,4.10],[228.5,4.01],[228.8,3.83],[228.8,6.92],[228.8,6.41],
[230.3,3.53],[230.3,4.07],[231.2,2.90],[231.5,2.78],[231.5,2.66],[231.6,2.48],[231.5,6.86],[234.0,4.19],[234.1,6.35],[234.2,6.20],[234.2,5.93],[234.2,5.81],[234.2,5.69],[236.1,6.59],
[236.3,6.05],[236.4,5.93],[236.4,5.81],[236.1,5.63],[236.3,5.51],[236.8,7.04],[237.8,6.38],[237.8,5.66],[237.8,5.48],[237.6,4.13],[237.6,4.07],[238.8,5.39],[238.8,5.15],[243.1,4.73],
[244.0,4.61],[245.4,5.54],[245.4,5.24],[195.8,1.31],[194.8,1.55],[194.2,1.70],[197.4,1.70],[198.0,1.49],[199.2,1.40],[200.9,1.64],[202.1,1.61],[203.5,1.31],[204.1,1.73],[204.7,1.97],
[206.2,2.03],[207.3,2.21],[200.9,1.13],[203.3,0.89],[199.8,0.77],[198.3,1.01],[222.4,2.63],[224.9,1.97],[208.5,2.60],[208.0,2.45],[209.0,1.80],[204.5,2.45],[203.0,2.10],[205.5,1.55]
];
const c2002Pts = [[191.2,1.76],[191.2,1.31],[196.6,2.08],[204.6,5.17],[217.2,6.17],[232.9,5.12],[237.3,6.14]];
const c2019Pts = [[195.7,2.12],[195.7,1.97],[195.7,1.82],[215.0,2.59],[221.4,4.73],[222.7,4.07],[222.7,3.80],[223.3,3.14],[223.3,2.74],[222.6,2.45],[222.6,2.06],[227.5,5.97],[227.5,5.74],[236.5,3.41],[236.5,3.34],[249.2,5.42],[249.2,5.20]];

// text
const legendLines = ['HNO<sub>3</sub>', '1996-2018', '2002', '2019'];
const panelLabels = ['(a)', '(b)', '(c)'];
const yTitleTotal = 'Total Column [10<sup>16</sup> molec/cm<sup>2</sup>]';
const yTitlePartial = 'Partial Column [10<sup>15</sup> molec/cm<sup>2</sup>]';
const xTitleTemp = 'Temperature [K] at 50hPa';
const statLines = ['R = 0.68', '18-22km', '28<sup>th</sup>Aug-30<sup>th</sup>Sep'];

// ---------------- STYLE / LAYOUT ----------------
const W = 1860, H = 4105;
const px = v => v / W, py = v => 1 - v / H;
const FONT = 'Liberation Sans, Arial, Helvetica, sans-serif';
const INK = '#111111', GRAY = '#b5b1ad', BLUE = '#213f8f', RED = '#e3001b';
const LEGEND_COLORS = [INK, GRAY, BLUE, RED];
const TICK_SIZE = 65, TEXT_SIZE = 66;

const XL = 166, XR = 1801;
const PA = [13, 1205], PB = [1373, 2565], PC = [2731, 3923];
const XD = [px(XL), px(XR)];
const yd = p => [py(p[1]), py(p[0])];

// minor ticks: quarters of each month
const minorDays = [];
for (let i = 0; i < monthStartDays.length - 1; i++) {
  const s = monthStartDays[i], e = monthStartDays[i + 1];
  for (let k = 1; k < 4; k++) { const d = s + k * (e - s) / 4; if (d > 201) minorDays.push(d); }
}
// interior labels only; edge labels are drawn nudged inward (as in the original)
const innerText = ticks => ticks.map((t, i) => (i === 0 || i === ticks.length - 1) ? '' : String(t));

function axisBase(extra) {
  return Object.assign({
    showline: true, linecolor: INK, linewidth: 6, mirror: 'allticks',
    ticks: 'inside', tickcolor: INK, tickwidth: 5, showgrid: false, zeroline: false,
    tickfont: {family: FONT, size: TICK_SIZE, color: INK}, fixedrange: true
  }, extra);
}
function dayAxis(anchor) {
  return axisBase({
    domain: XD, anchor: anchor, range: [201, 366],
    tickmode: 'array', tickvals: monthStartDays.slice(1), ticktext: monthNames.slice(1),
    ticklen: 21, ticklabelstandoff: 60,
    minor: {tickmode: 'array', tickvals: minorDays, ticks: 'inside', ticklen: 12, tickwidth: 5, tickcolor: INK, showgrid: false}
  });
}
function colAxis(anchor, dom) {
  return axisBase({
    domain: dom, anchor: anchor, range: [0, 3], tickmode: 'array', tickvals: colTicks, ticktext: innerText(colTicks),
    ticklen: 33, ticklabelstandoff: 8,
    minor: {tickmode: 'linear', tick0: 0, dtick: 0.1, ticks: 'inside', ticklen: 17, tickwidth: 5, tickcolor: INK, showgrid: false}
  });
}

const traces = [];
function pts(arr, i) { return arr.map(p => p[i]); }
// panel a
traces.push({type: 'scatter', mode: 'markers', x: pts(aGrayPts, 0), y: pts(aGrayPts, 1), xaxis: 'x', yaxis: 'y', marker: {color: GRAY, size: 16}, hoverinfo: 'skip'});
traces.push({type: 'scatter', mode: 'markers', x: pts(a2002Pts, 0), y: pts(a2002Pts, 1), xaxis: 'x', yaxis: 'y', marker: {color: BLUE, size: 18}, hoverinfo: 'skip'});
traces.push({type: 'scatter', mode: 'markers', x: pts(a2019Pts, 0), y: pts(a2019Pts, 1), xaxis: 'x', yaxis: 'y', marker: {color: RED, size: 19}, hoverinfo: 'skip'});
// panel b
const bgx = [], bgy = [];
bGrayCols.forEach(c => c.slice(1).forEach(v => { bgx.push(c[0]); bgy.push(v); }));
traces.push({type: 'scatter', mode: 'markers', x: bgx, y: bgy, xaxis: 'x2', yaxis: 'y2', marker: {color: GRAY, size: 18}, hoverinfo: 'skip'});
traces.push({type: 'scatter', mode: 'lines', x: b2002Days, y: b2002Vals, xaxis: 'x2', yaxis: 'y2', line: {color: BLUE, width: 7}, hoverinfo: 'skip'});
traces.push({type: 'scatter', mode: 'lines', x: b2019Days, y: b2019Vals, xaxis: 'x2', yaxis: 'y2', line: {color: RED, width: 6}, hoverinfo: 'skip'});
// panel c
traces.push({type: 'scatter', mode: 'markers', x: pts(cGrayPts, 0), y: pts(cGrayPts, 1), xaxis: 'x3', yaxis: 'y3', marker: {color: GRAY, size: 17}, hoverinfo: 'skip'});
traces.push({type: 'scatter', mode: 'markers', x: pts(c2002Pts, 0), y: pts(c2002Pts, 1), xaxis: 'x3', yaxis: 'y3', marker: {color: BLUE, size: 26}, hoverinfo: 'skip'});
traces.push({type: 'scatter', mode: 'markers', x: pts(c2019Pts, 0), y: pts(c2019Pts, 1), xaxis: 'x3', yaxis: 'y3', marker: {color: RED, size: 26}, hoverinfo: 'skip'});

const ann = [];
const shapes = [];
function txt(text, x, y, opts) {
  ann.push(Object.assign({text: text, x: x, y: y, xref: 'paper', yref: 'paper', showarrow: false,
    font: {family: FONT, size: TEXT_SIZE, color: INK}, xanchor: 'center', yanchor: 'middle'}, opts || {}));
}
// edge tick labels, nudged inside the axis extent
[[PA, colTicks], [PB, colTicks], [PC, partTicks]].forEach(([p, t]) => {
  txt(String(t[0]), px(148), py(p[1] - 22), {xanchor: 'right', font: {family: FONT, size: TICK_SIZE, color: INK}});
  txt(String(t[t.length - 1]), px(148), py(p[0] + 27), {xanchor: 'right', font: {family: FONT, size: TICK_SIZE, color: INK}});
});
// legends in each panel
[PA, PB, PC].forEach(p => {
  const offs = [117, 181, 249, 315];
  legendLines.forEach((t, i) => txt(t, px(273), py(p[0] + offs[i]), {xanchor: 'left', font: {family: FONT, size: TEXT_SIZE, color: LEGEND_COLORS[i]}}));
});
txt(panelLabels[0], px(1696), py(192));
txt(panelLabels[1], px(1696), py(1551));
txt(panelLabels[2], px(1643), py(2861));
// y titles
txt(yTitleTotal, px(44), py((PA[0] + PA[1]) / 2), {textangle: -90, font: {family: FONT, size: 64, color: INK}});
txt(yTitleTotal, px(44), py((PB[0] + PB[1]) / 2), {textangle: -90, font: {family: FONT, size: 64, color: INK}});
txt(yTitlePartial, px(44), py((PC[0] + PC[1]) / 2), {textangle: -90, font: {family: FONT, size: 64, color: INK}});
// x title (c)
txt(xTitleTemp, px((XL + XR) / 2), py(4060), {font: {family: FONT, size: 64, color: INK}});
// "1st" above month names
[['x', PA[1]], ['x2', PB[1]]].forEach(([xr, bottom]) => {
  monthStartDays.slice(1).forEach(d => ann.push({text: '1<sup>st</sup>', x: d, y: py(bottom + 63), xref: xr, yref: 'paper',
    showarrow: false, font: {family: FONT, size: 65, color: INK}, xanchor: 'center', yanchor: 'middle'}));
});
// stats text in (c)
statLines.forEach((t, i) => txt(t, px(1690), py([3596, 3666, 3736][i]), {xanchor: 'right'}));
txt('T<sub>NAT</sub>', px(1396), py(3800), {xanchor: 'right'});
shapes.push({type: 'line', xref: 'paper', yref: 'paper', x0: px(1436), x1: px(1684), y0: py(3806), y1: py(3806),
  line: {color: INK, width: 7, dash: '32px,18px,5px,18px'}});
// period lines
[['x', 'y'], ['x2', 'y2']].forEach(([xr, yr]) => periodLineDays.forEach(d => shapes.push({type: 'line', xref: xr, yref: yr + ' domain',
  x0: d, x1: d, y0: 0, y1: 1, line: {color: RED, width: 7, dash: '54px,30px'}})));
// T_NAT line
shapes.push({type: 'line', xref: 'x3', yref: 'y3', x0: tNAT, x1: tNAT, y0: 0, y1: 6.5, line: {color: INK, width: 7, dash: '32px,18px,5px,18px'}});

const layout = {
  width: W, height: H, margin: {l: 0, r: 0, t: 0, b: 0}, paper_bgcolor: '#fff', plot_bgcolor: '#fff',
  showlegend: false, font: {family: FONT, color: INK},
  xaxis: dayAxis('y'), yaxis: colAxis('x', yd(PA)),
  xaxis2: dayAxis('y2'), yaxis2: colAxis('x2', yd(PB)),
  xaxis3: axisBase({domain: XD, anchor: 'y3', range: [180, 260], tickmode: 'array', tickvals: tempTicks,
    ticklen: 21, ticklabelstandoff: 6,
    minor: {tickmode: 'linear', tick0: 180, dtick: 5, ticks: 'inside', ticklen: 12, tickwidth: 5, tickcolor: INK, showgrid: false}}),
  yaxis3: axisBase({domain: yd(PC), anchor: 'x3', range: [0, 8], tickmode: 'array', tickvals: partTicks, ticktext: innerText(partTicks),
    ticklen: 33, ticklabelstandoff: 8,
    minor: {tickmode: 'linear', tick0: 0, dtick: 0.5, ticks: 'inside', ticklen: 17, tickwidth: 5, tickcolor: INK, showgrid: false}}),
  annotations: ann, shapes: shapes
};
Plotly.newPlot('chart', traces, layout, {staticPlot: true, displayModeBar: false});
</script></body></html>
